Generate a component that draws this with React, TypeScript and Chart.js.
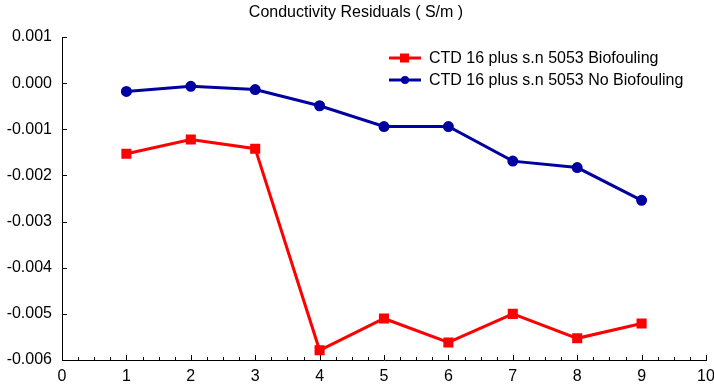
import React, { useEffect, useRef } from "react";
import { Chart, registerables } from "chart.js";

Chart.register(...registerables);

const xValues = [1, 2, 3, 4, 5, 6, 7, 8, 9];
const biofouling = [-0.00153, -0.00122, -0.00142, -0.00579, -0.0051, -0.00562, -0.005, -0.00553, -0.00521];
const noBiofouling = [-0.00018, -0.00007, -0.00014, -0.00049, -0.00094, -0.00094, -0.00169, -0.00183, -0.00254];
const seriesNames = ["CTD 16 plus s.n 5053 Biofouling", "CTD 16 plus s.n 5053 No Biofouling"];
const titleText = "Conductivity Residuals ( S/m )";

const FONT = "'Liberation Sans', Arial, sans-serif";

const decorPlugin = {
  id: "decor",
  afterDraw(chart: any) {
    const ctx = chart.ctx;
    const xs = chart.scales.x;
    const ys = chart.scales.y;
    const area = chart.chartArea;
    ctx.save();
    ctx.strokeStyle = "#000";
    ctx.lineWidth = 1;
    for (let v = 0; v <= 10.0001; v += 0.25) {
      const px = Math.round(xs.getPixelForValue(v)) + 0.5;
      const major = Math.abs(v - Math.round(v)) < 1e-6;
      const len = major ? 5 : 3;
      ctx.beginPath();
      ctx.moveTo(px, area.bottom);
      ctx.lineTo(px, area.bottom - len);
      ctx.stroke();
    }
    for (let i = 0; i <= 7; i++) {
      const v = -0.006 + i * 0.001;
      const py = Math.round(ys.getPixelForValue(v)) + 0.5;
      ctx.beginPath();
      ctx.moveTo(area.left, py);
      ctx.lineTo(area.left + 5, py);
      ctx.stroke();
    }
    ctx.fillStyle = "#000";
    ctx.font = `16px ${FONT}`;
    ctx.textAlign = "center";
    ctx.textBaseline = "middle";
    ctx.fillText(titleText, 356, 13);
    const rows = [
      { label: seriesNames[0], color: "#FF0000", shape: "rect", y: 58 },
      { label: seriesNames[1], color: "#0000A0", shape: "circle", y: 80 },
    ];
    ctx.font = `16px ${FONT}`;
    ctx.textAlign = "left";
    rows.forEach((r) => {
      ctx.strokeStyle = r.color;
      ctx.fillStyle = r.color;
      ctx.lineWidth = 3;
      ctx.beginPath();
      ctx.moveTo(389, r.y);
      ctx.lineTo(421, r.y);
      ctx.stroke();
      if (r.shape === "rect") {
        ctx.fillRect(400, r.y - 4.5, 9, 9);
      } else {
        ctx.beginPath();
        ctx.arc(405, r.y, 4, 0, Math.PI * 2);
        ctx.fill();
      }
      ctx.fillStyle = "#000";
      ctx.fillText(r.label, 429, r.y + 1);
    });
    ctx.restore();
  },
};

export default function App() {
  const canvasRef = useRef<HTMLCanvasElement | null>(null);

  useEffect(() => {
    if (!canvasRef.current) return;
    Chart.defaults.color = "#000";
    Chart.defaults.font.family = FONT;
    const chart = new Chart(canvasRef.current, {
      type: "line",
      data: {
        datasets: [
          {
            label: seriesNames[0],
            data: xValues.map((x, i) => ({ x, y: biofouling[i] })),
            borderColor: "#FF0000",
            backgroundColor: "#FF0000",
            borderWidth: 3,
            pointStyle: "rect",
            pointRadius: 5,
            pointHoverRadius: 5,
            fill: false,
            tension: 0,
          },
          {
            label: seriesNames[1],
            data: xValues.map((x, i) => ({ x, y: noBiofouling[i] })),
            borderColor: "#0000A0",
            backgroundColor: "#0000A0",
            borderWidth: 3,
            pointStyle: "circle",
            pointRadius: 4,
            pointHoverRadius: 4,
            fill: false,
            tension: 0,
          },
        ],
      },
      options: {
        animation: false,
        responsive: true,
        maintainAspectRatio: false,
        layout: { padding: { left: 0, right: 7, top: 37, bottom: 0 } },
        plugins: {
          legend: { display: false },
          title: { display: false },
          tooltip: { enabled: false },
        },
        scales: {
          x: {
            type: "linear",
            min: 0,
            max: 10,
            ticks: { stepSize: 1, font: { size: 16, family: FONT }, color: "#000", padding: 7, maxRotation: 0 },
            grid: { display: true, drawOnChartArea: false, drawTicks: false },
            border: { display: true, color: "#000", width: 1 },
            afterFit: (axis: any) => {
              axis.height = 26;
              axis.paddingRight = 0;
              axis.paddingLeft = 0;
            },
          },
          y: {
            type: "linear",
            min: -0.006,
            max: 0.001,
            ticks: {
              stepSize: 0.001,
              font: { size: 16, family: FONT },
              color: "#000",
              padding: 10,
              callback: (v: any) => Number(v).toFixed(3).replace("-0.000", "0.000"),
            },
            grid: { display: true, drawOnChartArea: false, drawTicks: false },
            border: { display: true, color: "#000", width: 1 },
            afterFit: (axis: any) => {
              axis.width = 62;
              axis.paddingTop = 0;
              axis.paddingBottom = 0;
            },
          },
        },
      },
      plugins: [decorPlugin],
    });
    return () => chart.destroy();
  }, []);

  return (
    <div style={{ position: "fixed", left: 0, top: 0, width: 714, height: 386, background: "#fff" }}>
      <canvas ref={canvasRef} />
    </div>
  );
}
